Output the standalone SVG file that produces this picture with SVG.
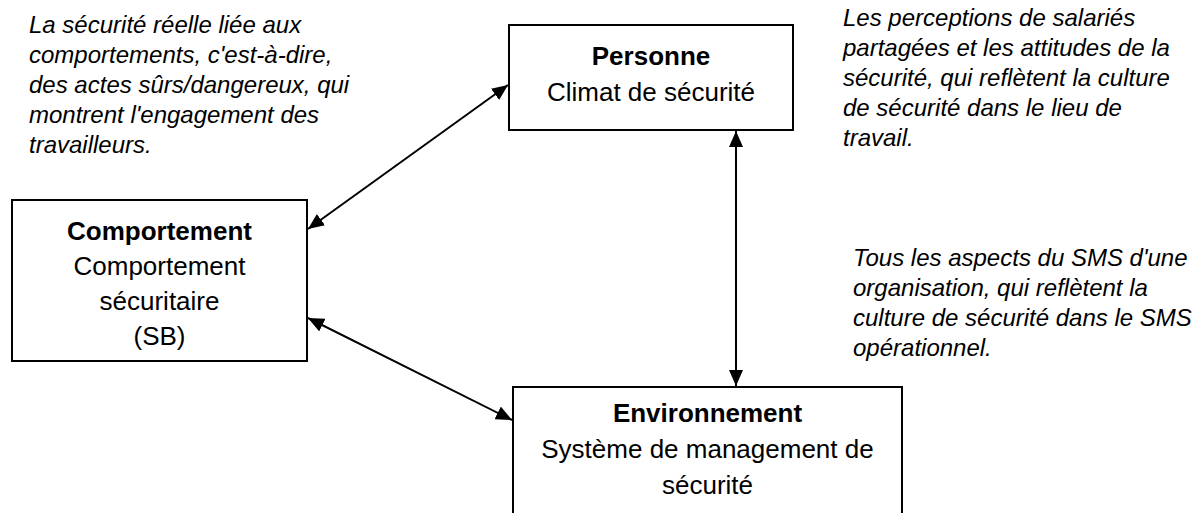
<svg xmlns="http://www.w3.org/2000/svg" width="1197" height="513" viewBox="0 0 1197 513">
  <style>
    .box { fill: #ffffff; stroke: #000000; stroke-width: 2; }
    .title { font-family: "Liberation Sans", Arial, sans-serif; font-size: 26px; font-weight: bold; fill: #000000; text-anchor: middle; }
    .label { font-family: "Liberation Sans", Arial, sans-serif; font-size: 26px; fill: #000000; text-anchor: middle; }
    .note { font-family: "Liberation Sans", Arial, sans-serif; font-size: 24px; font-style: italic; fill: #000000; }
    .link { fill: none; stroke: #000000; stroke-width: 2; marker-start: url(#head); marker-end: url(#head); }
  </style>
  <defs>
    <!-- filled triangular head, reused at both ends of every connector -->
    <marker id="head" viewBox="0 0 16 14" refX="16" refY="7" markerWidth="16" markerHeight="14" markerUnits="userSpaceOnUse" orient="auto-start-reverse">
      <path d="M0,0 L16,7 L0,14 Z" fill="#000000"/>
    </marker>
  </defs>

  <rect width="1197" height="513" fill="#ffffff"/>

  <!-- side notes -->
  <g id="note-comportement">
    <text class="note" x="29" y="33">La sécurité réelle liée aux</text>
    <text class="note" x="29" y="63">comportements, c'est-à-dire,</text>
    <text class="note" x="29" y="93">des actes sûrs/dangereux, qui</text>
    <text class="note" x="29" y="123">montrent l'engagement des</text>
    <text class="note" x="29" y="153">travailleurs.</text>
  </g>
  <g id="note-personne">
    <text class="note" x="843" y="26">Les perceptions de salariés</text>
    <text class="note" x="843" y="56">partagées et les attitudes de la</text>
    <text class="note" x="843" y="86">sécurité, qui reflètent la culture</text>
    <text class="note" x="843" y="116">de sécurité dans le lieu de</text>
    <text class="note" x="843" y="146">travail.</text>
  </g>
  <g id="note-environnement">
    <text class="note" x="853" y="266">Tous les aspects du SMS d'une</text>
    <text class="note" x="853" y="296">organisation, qui reflètent la</text>
    <text class="note" x="853" y="326">culture de sécurité dans le SMS</text>
    <text class="note" x="853" y="356">opérationnel.</text>
  </g>

  <!-- nodes -->
  <g id="personne">
    <rect class="box" x="509" y="25" width="284" height="105"/>
    <text class="title" x="651" y="65">Personne</text>
    <text class="label" x="651" y="101">Climat de sécurité</text>
  </g>
  <g id="comportement">
    <rect class="box" x="12" y="200" width="295" height="161"/>
    <text class="title" x="159.5" y="240">Comportement</text>
    <text class="label" x="159.5" y="275">Comportement</text>
    <text class="label" x="159.5" y="310">sécuritaire</text>
    <text class="label" x="159.5" y="345">(SB)</text>
  </g>
  <g id="environnement">
    <rect class="box" x="513" y="387" width="389" height="140"/>
    <text class="title" x="707.5" y="422">Environnement</text>
    <text class="label" x="707.5" y="458">Système de management de</text>
    <text class="label" x="707.5" y="494">sécurité</text>
  </g>

  <!-- connectors -->
  <g id="connectors">
    <line class="link" x1="308" y1="229" x2="508" y2="85"/>
    <line class="link" x1="308" y1="318" x2="512" y2="420"/>
    <line class="link" x1="736" y1="131" x2="736" y2="386"/>
  </g>
</svg>
